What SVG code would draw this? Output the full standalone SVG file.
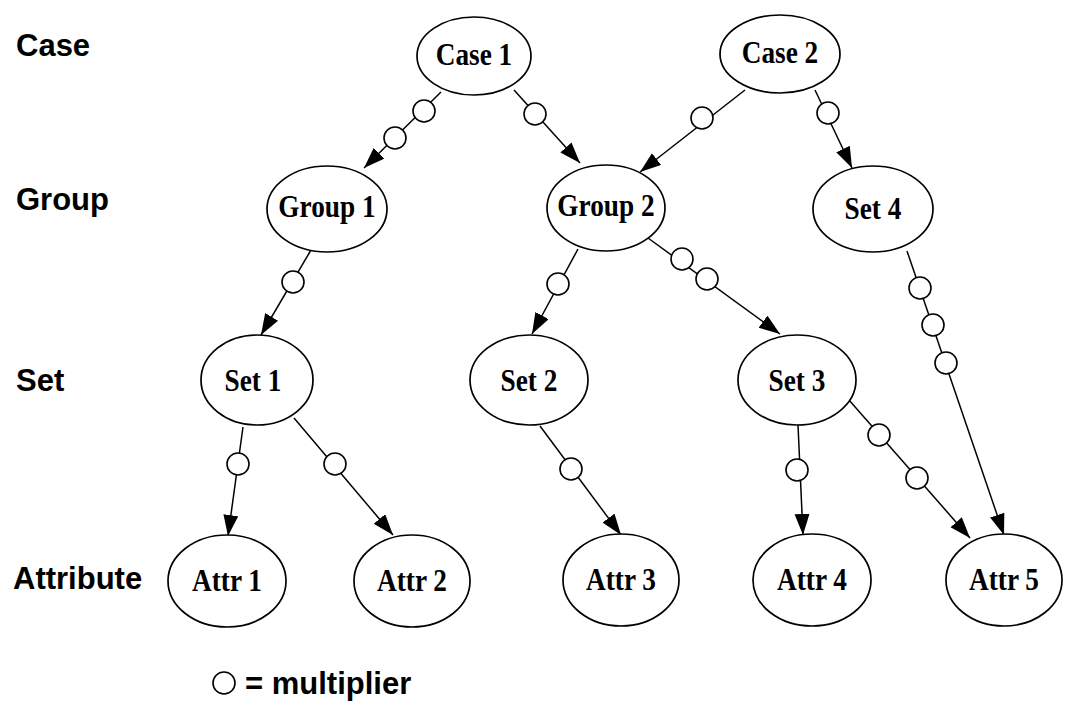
<svg xmlns="http://www.w3.org/2000/svg" width="1067" height="719" viewBox="0 0 1067 719">
  <style>
    .node ellipse { fill: #fff; stroke: #000; stroke-width: 1.7; }
    .node text { font-family: "Liberation Serif", "Times New Roman", serif; font-weight: bold; font-size: 31px; text-anchor: middle; fill: #000; }
    .lvl { font-family: "Liberation Sans", Arial, sans-serif; font-weight: bold; font-size: 31px; fill: #000; }
    .edge { fill: none; stroke: #000; stroke-width: 1.5; marker-end: url(#arrow); }
    .mult { fill: #fff; stroke: #000; stroke-width: 1.6; }
  </style>
  <defs>
    <marker id="arrow" markerUnits="userSpaceOnUse" markerWidth="22" markerHeight="16" refX="21" refY="7.5" orient="auto">
      <path d="M0,0 L21,7.5 L0,15 z" fill="#000"/>
    </marker>
  </defs>
  <rect width="1067" height="719" fill="#fff"/>

  <!-- level labels -->
  <g id="levels">
    <text class="lvl" x="16" y="56">Case</text>
    <text class="lvl" x="16" y="210">Group</text>
    <text class="lvl" x="16" y="391">Set</text>
    <text class="lvl" x="13" y="589">Attribute</text>
  </g>

  <!-- connectors with multiplier circles -->
  <g id="connectors">
    <path class="edge" d="M441,92 L364,168"/>
    <path class="edge" d="M514,90 L580,163"/>
    <path class="edge" d="M745,90 L640,172"/>
    <path class="edge" d="M815,90 L852,168"/>
    <path class="edge" d="M311,250 L261,335"/>
    <path class="edge" d="M578,249 L532,334"/>
    <path class="edge" d="M648,238 L780,334"/>
    <path class="edge" d="M907,251 L1004,535"/>
    <path class="edge" d="M849,400 L970,538"/>
    <path class="edge" d="M798,425 L803,535"/>
    <path class="edge" d="M540,426 L621,535"/>
    <path class="edge" d="M243,427 L228,536"/>
    <path class="edge" d="M294,418 L393,535"/>

    <circle class="mult" cx="424" cy="111" r="11"/>
    <circle class="mult" cx="395" cy="138" r="11"/>
    <circle class="mult" cx="535" cy="114" r="11"/>
    <circle class="mult" cx="702" cy="118" r="11"/>
    <circle class="mult" cx="828" cy="113" r="11"/>
    <circle class="mult" cx="293" cy="282" r="11"/>
    <circle class="mult" cx="558" cy="284" r="11"/>
    <circle class="mult" cx="682" cy="259" r="11"/>
    <circle class="mult" cx="707" cy="279" r="11"/>
    <circle class="mult" cx="920" cy="288" r="11"/>
    <circle class="mult" cx="933" cy="325" r="11"/>
    <circle class="mult" cx="946" cy="363" r="11"/>
    <circle class="mult" cx="879" cy="435" r="11"/>
    <circle class="mult" cx="917" cy="478" r="11"/>
    <circle class="mult" cx="797" cy="470" r="11"/>
    <circle class="mult" cx="571" cy="469" r="11"/>
    <circle class="mult" cx="238" cy="464" r="11"/>
    <circle class="mult" cx="335" cy="464" r="11"/>
  </g>

  <!-- nodes -->
  <g id="case1" class="node"><ellipse cx="474" cy="56" rx="57" ry="39"/><text transform="translate(474 65) scale(0.88 1)">Case 1</text></g>
  <g id="case2" class="node"><ellipse cx="780" cy="54" rx="60" ry="39"/><text transform="translate(780 63) scale(0.88 1)">Case 2</text></g>
  <g id="group1" class="node"><ellipse cx="327" cy="209" rx="60" ry="43"/><text transform="translate(327 217) scale(0.88 1)">Group 1</text></g>
  <g id="group2" class="node"><ellipse cx="606" cy="208" rx="59" ry="43"/><text transform="translate(606 216) scale(0.88 1)">Group 2</text></g>
  <g id="set4" class="node"><ellipse cx="873" cy="209" rx="60" ry="43"/><text transform="translate(873 219) scale(0.88 1)">Set 4</text></g>
  <g id="set1" class="node"><ellipse cx="257" cy="380" rx="56" ry="45"/><text transform="translate(253 391) scale(0.88 1)">Set 1</text></g>
  <g id="set2" class="node"><ellipse cx="529" cy="380" rx="59" ry="45"/><text transform="translate(529 391) scale(0.88 1)">Set 2</text></g>
  <g id="set3" class="node"><ellipse cx="797" cy="380" rx="59" ry="45"/><text transform="translate(797 391) scale(0.88 1)">Set 3</text></g>
  <g id="attr1" class="node"><ellipse cx="227" cy="581" rx="59" ry="46"/><text transform="translate(227 591) scale(0.88 1)">Attr 1</text></g>
  <g id="attr2" class="node"><ellipse cx="412" cy="581" rx="58" ry="46"/><text transform="translate(412 591) scale(0.88 1)">Attr 2</text></g>
  <g id="attr3" class="node"><ellipse cx="621" cy="580" rx="58" ry="46"/><text transform="translate(621 590) scale(0.88 1)">Attr 3</text></g>
  <g id="attr4" class="node"><ellipse cx="812" cy="580" rx="59" ry="46"/><text transform="translate(812 590) scale(0.88 1)">Attr 4</text></g>
  <g id="attr5" class="node"><ellipse cx="1004" cy="580" rx="58" ry="46"/><text transform="translate(1004 590) scale(0.88 1)">Attr 5</text></g>

  <!-- legend -->
  <g id="legend">
    <circle class="mult" cx="224" cy="683" r="11"/>
    <text class="lvl" x="245" y="694">= multiplier</text>
  </g>
</svg>
